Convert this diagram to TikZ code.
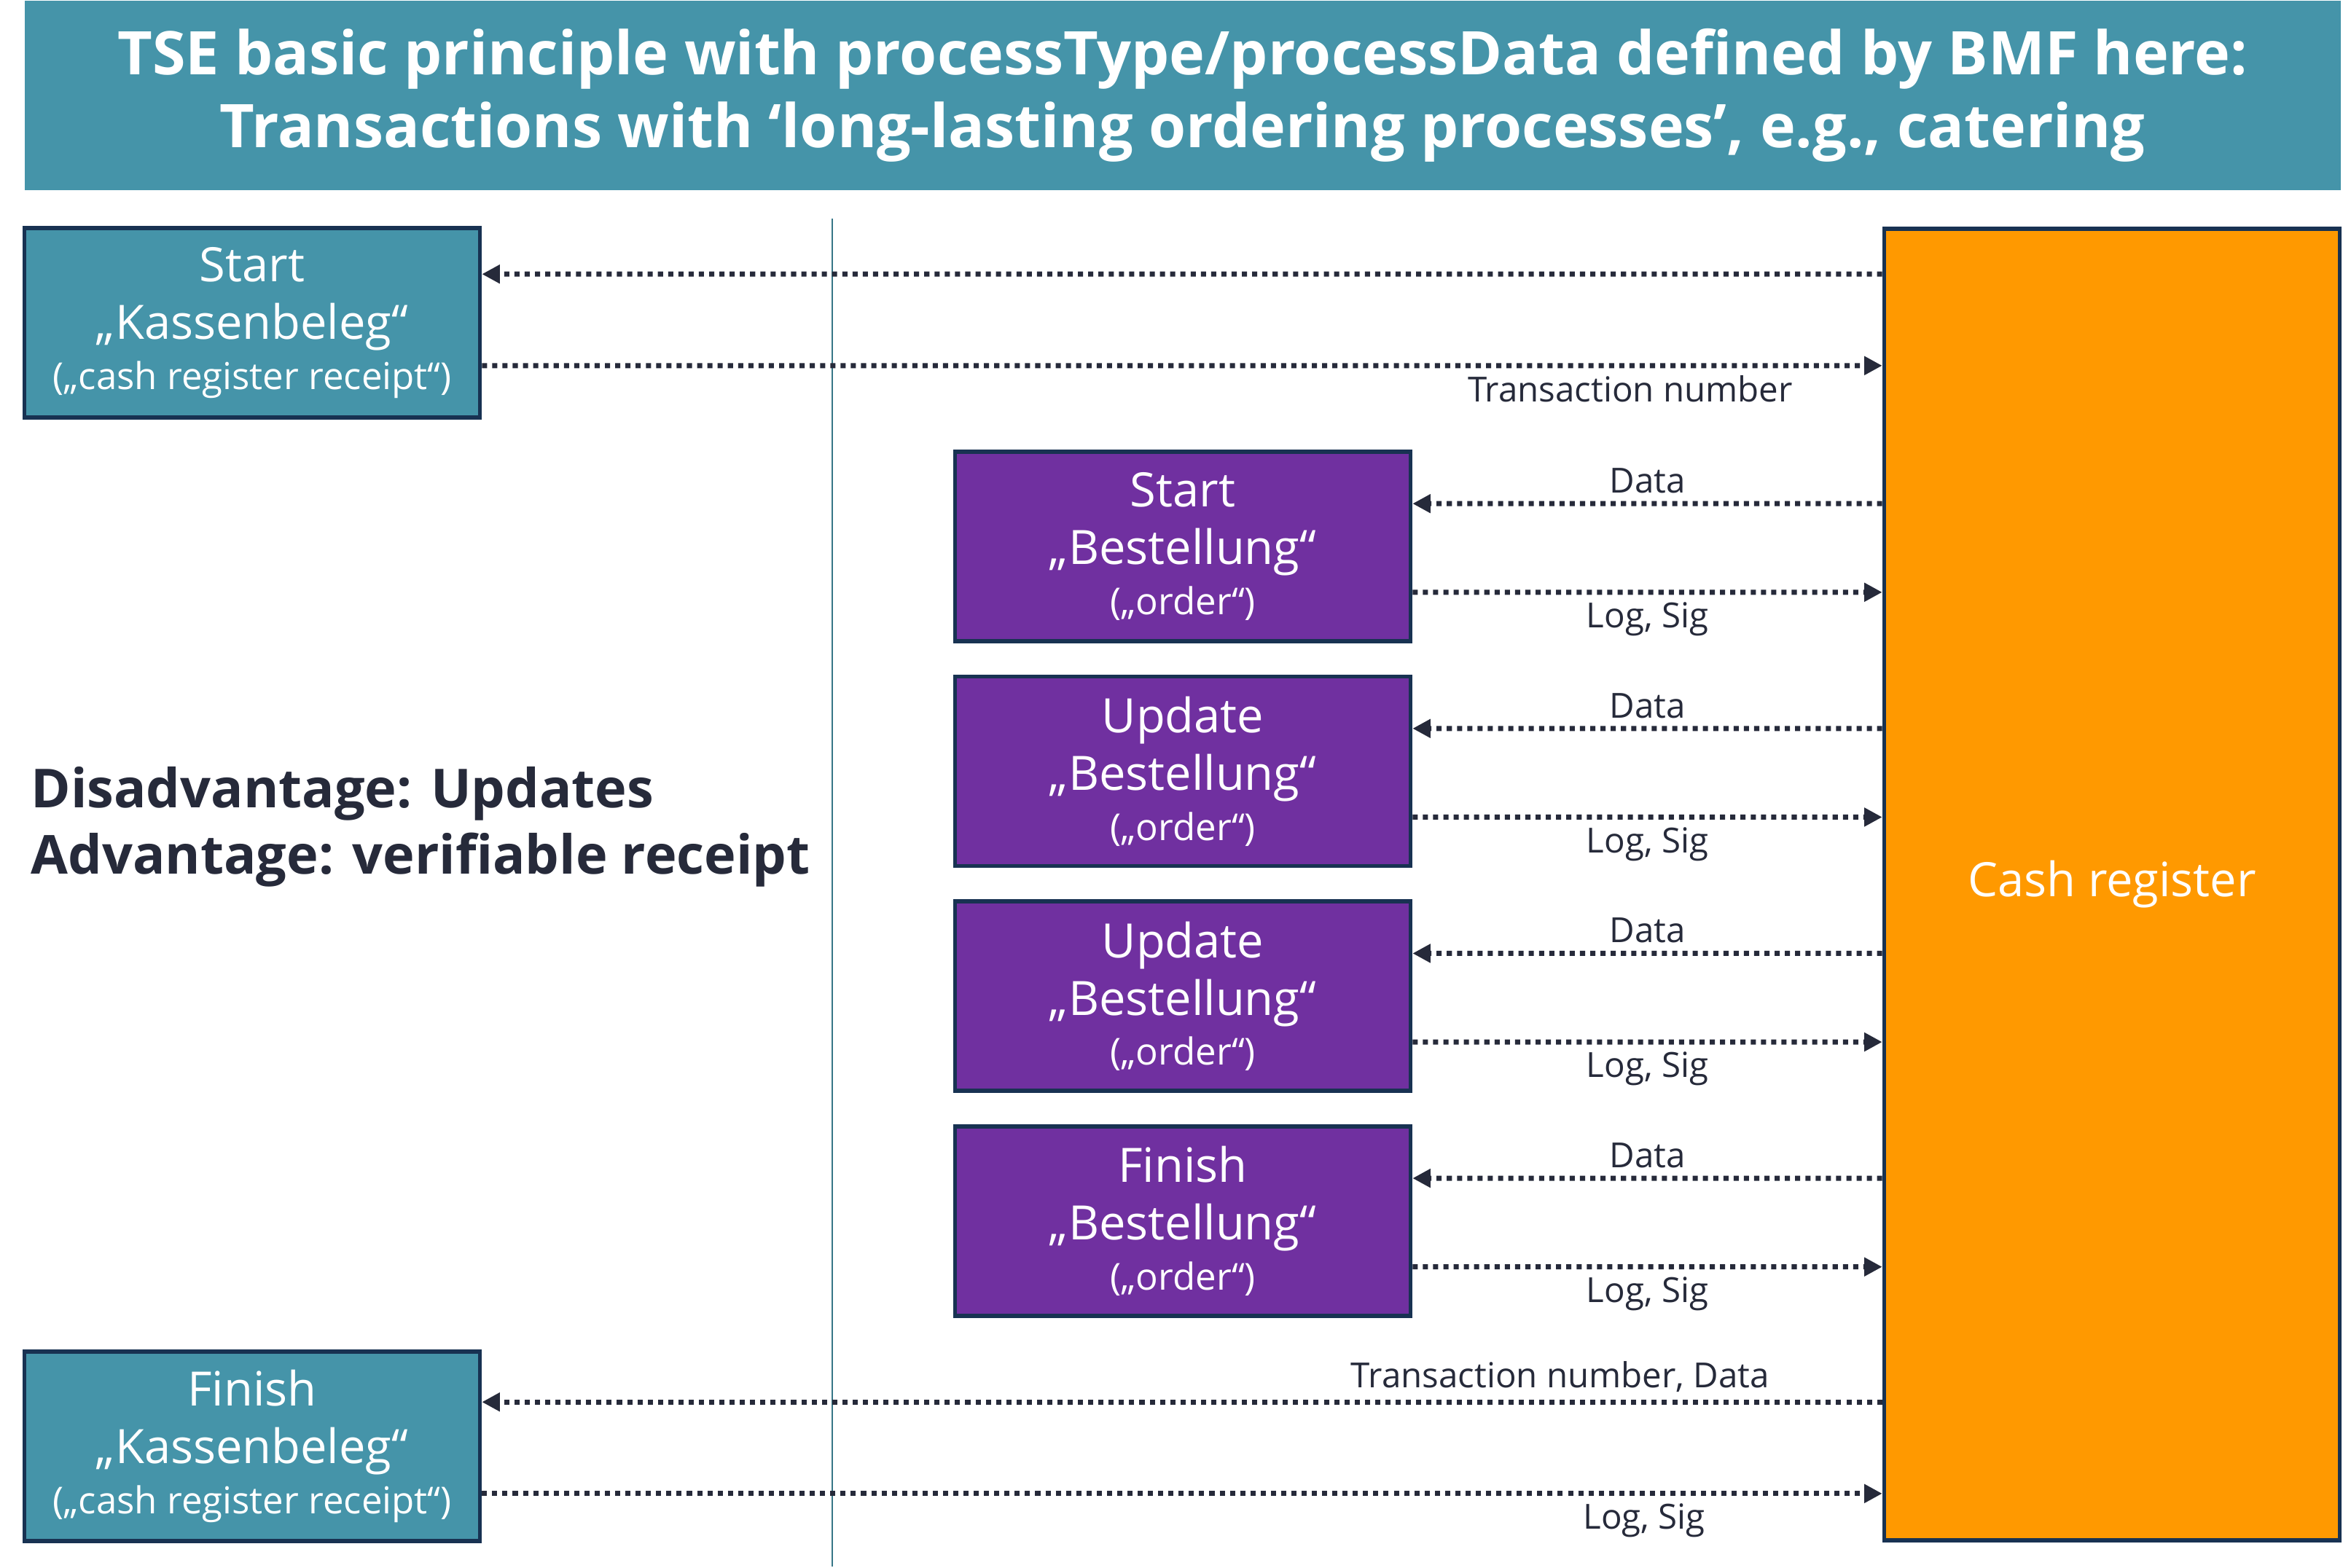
\documentclass[tikz,border=0pt]{standalone}
\usepackage{fontspec}
\setmainfont{Open Sans}
\usetikzlibrary{arrows.meta, positioning, calc}
\definecolor{TseTeal}{RGB}{69, 148, 169}
\definecolor{TseBorder}{RGB}{24, 50, 82}
\definecolor{TsePurple}{RGB}{112, 48, 160}
\definecolor{TseOrange}{RGB}{255, 153, 0}
\definecolor{TseInk}{RGB}{38, 42, 58}

\begin{document}
\begin{tikzpicture}[
    font=\fontsize{13.5}{16}\selectfont,
    % Styles
    receipt/.style={rectangle, line width=1.6pt, minimum width=6.25cm, minimum height=2.6cm, align=center, draw=TseBorder, fill=TseTeal, text=white, font=\fontsize{18.5}{22.5}\selectfont},
    order/.style={rectangle, line width=1.6pt, minimum width=6.25cm, minimum height=2.6cm, align=center, draw=TseBorder, fill=TsePurple, text=white, font=\fontsize{18.5}{22.5}\selectfont},
    register/.style={rectangle, line width=1.6pt, minimum width=6.25cm, minimum height=18cm, align=center, draw=TseBorder, fill=TseOrange, text=white, font=\fontsize{18.5}{22.5}\selectfont},
    flow/.style={line width=2pt, dotted, color=TseInk, -{Triangle[length=7pt, width=7pt]}},
    tag/.style={font=\fontsize{13.5}{16}\selectfont, text=TseInk, inner sep=3pt}
]

% Canvas
\fill[white] (0,0) rectangle (32.15,-21.5);

% ==========================================================================================
% TITLE
% ==========================================================================================
\node[rectangle, fill=TseTeal, minimum width=31.78cm, minimum height=2.6cm, anchor=north west, align=center, text=white, font=\fontsize{23.5}{28.5}\selectfont\bfseries] (title) at (0.33,0) {TSE basic principle with processType/processData defined by BMF here:\\Transactions with ‘long-lasting ordering processes’, e.g., catering};

% Separator line
\draw[TseTeal!80!black, line width=0.6pt] (11.42,-3.0) coordinate (sep_top) -- (11.42,-21.5) coordinate (sep_bottom);

% ==========================================================================================
% NODES
% ==========================================================================================
% Cash register - Orange Fill
\node[register] (register) at (28.98,-12.14) {Cash register};

% Kassenbeleg - Teal Fill
\node[receipt] (start_receipt) at (3.46,-4.43) {Start\\„Kassenbeleg“\\[-3pt]{\fontsize{14.5}{17}\selectfont(„cash register receipt“)}};
\node[receipt] (finish_receipt) at (3.46,-19.85) {Finish\\„Kassenbeleg“\\[-3pt]{\fontsize{14.5}{17}\selectfont(„cash register receipt“)}};

% Bestellung - Purple Fill
\node[order] (start_order) at (16.23,-7.5) {Start\\„Bestellung“\\[-3pt]{\fontsize{14.5}{17}\selectfont(„order“)}};
\node[order, below=0.43cm of start_order] (update_order1) {Update\\„Bestellung“\\[-3pt]{\fontsize{14.5}{17}\selectfont(„order“)}};
\node[order, below=0.43cm of update_order1] (update_order2) {Update\\„Bestellung“\\[-3pt]{\fontsize{14.5}{17}\selectfont(„order“)}};
\node[order, below=0.43cm of update_order2] (finish_order) {Finish\\„Bestellung“\\[-3pt]{\fontsize{14.5}{17}\selectfont(„order“)}};

% Note
\node[anchor=west, align=left, text=TseInk, font=\fontsize{21}{26}\selectfont\bfseries] (note) at (0.3,-11.35) {Disadvantage: Updates\\Advantage: verifiable receipt};

% ==========================================================================================
% ARROWS
% ==========================================================================================
\draw[flow] (register.west |- {$(start_receipt.north east)+(0,-0.66)$}) -- ([yshift=-0.66cm]start_receipt.north east);
\draw[flow] ([yshift=0.74cm]start_receipt.south east) -- node[tag, below, pos=0.82] {Transaction number} (register.west |- {$(start_receipt.south east)+(0,0.74)$});

\foreach \ord in {start_order, update_order1, update_order2, finish_order}{
  \draw[flow] (register.west |- {$(\ord.north east)+(0,-0.74)$}) -- node[tag, above] {Data} ([yshift=-0.74cm]\ord.north east);
  \draw[flow] ([yshift=0.7cm]\ord.south east) -- node[tag, below] {Log, Sig} (register.west |- {$(\ord.south east)+(0,0.7)$});
}

\draw[flow] (register.west |- {$(finish_receipt.north east)+(0,-0.72)$}) -- node[tag, above, pos=0.23] {Transaction number, Data} ([yshift=-0.72cm]finish_receipt.north east);
\draw[flow] ([yshift=0.68cm]finish_receipt.south east) -- node[tag, below, pos=0.83] {Log, Sig} (register.west |- {$(finish_receipt.south east)+(0,0.68)$});

\end{tikzpicture}
\end{document}
